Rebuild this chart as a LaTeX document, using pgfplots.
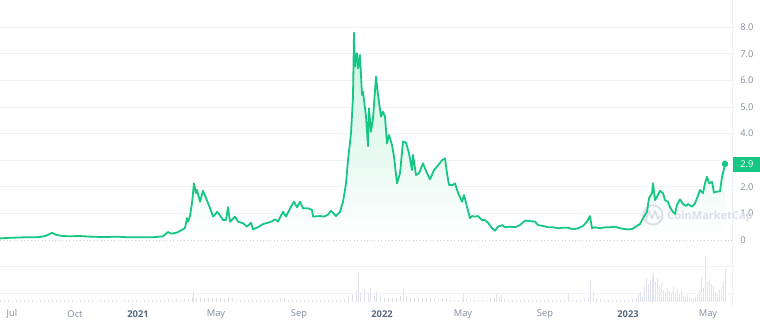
\documentclass[border=0pt]{standalone}
\usepackage{pgfplots}
\usepackage{pgfplotstable}
\pgfplotsset{compat=1.18}
\usepackage{fontspec}
\setmainfont{Open Sans}
\definecolor{cmcgreen}{RGB}{22,199,132}
\definecolor{ticklab}{RGB}{128,138,157}
\definecolor{yearlab}{RGB}{88,102,126}
\definecolor{gridc}{RGB}{239,242,245}
\definecolor{zeroc}{RGB}{196,202,214}
\definecolor{volc}{RGB}{222,226,236}
\definecolor{fillg}{RGB}{200,242,224}
\definecolor{wmark}{RGB}{220,223,230}

% x in pixel units of the time axis, y = price
\pgfplotstableread{
x y
0 0.06
8 0.08
16 0.09
24 0.1
32 0.1
40 0.11
46 0.16
52 0.27
56 0.2
62 0.15
70 0.14
80 0.15
88 0.13
96 0.12
104 0.11
112 0.12
120 0.12
128 0.1
136 0.1
144 0.1
152 0.1
158 0.12
163 0.14
168 0.3
171 0.24
173 0.25
177 0.28
182 0.38
185 0.45
187 0.82
188 0.69
190 0.9
192 1.39
194 2.13
196 1.76
197 1.88
200 1.44
203 1.85
206 1.58
210 1.2
213 0.88
215 0.95
217 1.06
219 0.98
223 0.75
226 0.75
228 1.24
230 0.69
233 0.8
235 0.88
238 0.69
243 0.63
247 0.5
251 0.65
253 0.4
258 0.48
263 0.6
268 0.65
272 0.7
275 0.78
278 0.69
283 1.06
286 0.88
291 1.25
294 1.44
297 1.23
300 1.44
303 1.19
308 1.19
312 1.13
313 0.88
320 0.9
324 0.88
328 0.95
331 1.1
336 0.9
340 1.06
343 1.44
345 1.88
346 2.13
348 3.0
351 4.01
353 5.39
354 7.79
355 6.52
357 7.02
358 6.45
360 6.95
362 5.45
363 5.58
366 4.64
368 3.53
369 4.95
371 4.07
373 4.57
376 6.14
378 5.45
381 4.64
383 4.82
385 4.64
387 3.63
389 3.95
392 3.57
394 3.13
397 2.13
400 2.51
403 3.7
406 3.66
409 3.26
412 2.63
413 3.2
416 2.44
419 2.51
423 2.88
427 2.51
430 2.28
434 2.63
437 2.76
440 2.9
442 3.0
445 3.07
447 2.51
449 2.07
453 2.07
455 2.13
458 1.78
462 1.44
464 1.69
467 1.25
470 0.82
472 0.9
475 0.88
478 0.9
482 0.75
485 0.75
488 0.65
492 0.44
495 0.35
498 0.5
502 0.56
505 0.48
510 0.5
515 0.48
520 0.56
525 0.73
530 0.71
535 0.69
538 0.56
543 0.53
548 0.48
553 0.48
558 0.44
563 0.46
568 0.46
573 0.4
578 0.44
583 0.53
587 0.69
590 0.9
592 0.44
595 0.48
600 0.44
605 0.48
610 0.48
615 0.5
620 0.44
627 0.4
632 0.41
637 0.53
640 0.6
643 0.82
647 1.06
649 1.57
652 1.76
653 2.13
655 1.5
657 1.63
660 1.85
663 1.76
665 1.5
668 1.44
670 1.23
673 1.06
675 0.98
677 1.32
680 1.53
683 1.35
686 1.28
688 1.35
692 1.25
695 1.38
697 1.57
700 1.88
703 1.76
705 2.13
707 2.38
709 2.13
712 2.19
714 1.78
717 1.82
720 1.82
722 2.38
723 2.51
725 2.86
}\pricetable

% volume bar heights, in pixels of the chart
\pgfplotstableread{
x v
0 2
4 1.5
8 2
12 1
16 2
20 1.5
24 2
28 2
32 1.5
36 1
40 2
44 1.5
48 2
52 2.5
56 2
60 1.5
64 2
68 1.5
72 2
76 1
80 2
84 1.5
88 2
92 1.5
96 1
100 2
104 1.5
108 2
112 1.5
116 2
120 1
124 2
128 1.5
132 2
136 1.5
140 1
144 2
148 1.5
152 2
156 1.5
160 2
164 2
168 2.5
172 2
176 2.5
180 2
184 3
188 3
192 5
193 11
196 4
200 5
204 3
208 4
212 3
216 4
220 3
224 3
228 5
232 4
236 2
240 2
244 1.5
248 2
252 3
256 2
260 2
264 1.5
268 2
272 2
276 2
280 3
284 4
288 2
292 3
296 2
300 2
304 2
308 1.5
312 2
316 2
320 1.5
324 2
328 2
332 2
336 1.5
340 2
344 3
348 6
352 9
356 12
358 29
360 10
364 12
368 8
370 14
374 7
376 11
380 6
384 5
388 4
392 5
396 4
400 6
403 14
406 6
410 5
414 4
418 5
422 3
426 4
430 3
434 3
438 2
442 3
446 3
450 2
454 2
458 2
462 3
463 8
466 3
470 2
474 2
478 1.5
482 2
486 2
490 3
494 4
496 9
499 5
501 7
504 3
508 2
512 2
516 2
520 2
524 3
528 2
532 2
536 2
540 1.5
544 2
548 3
552 2
556 2
560 1.5
564 1.5
568 9
572 2
576 1.5
580 2
584 3
588 5
590 21
593 10
596 4
600 3
604 2
608 2
612 2
616 1.5
620 1.5
624 1.5
628 2
632 3
636 4
638 8
640 10
642 6
644 15
646 24
648 18
650 22
652 26
653 29
655 20
657 24
659 16
661 19
663 12
665 10
667 14
669 11
671 9
673 15
675 10
677 13
679 8
681 11
683 6
685 5
687 7
689 4
691 4
693 3
695 5
697 8
699 12
701 25
703 14
705 45
707 20
709 22
711 18
713 16
715 10
717 8
719 12
721 15
723 20
725 33
}\voltable

\begin{document}
\begin{tikzpicture}
\pgfplotsset{base/.style={scale only axis, width=549pt, height=226.5pt, xmin=0, xmax=732, at={(0,0)}, anchor=south west}}
\begin{axis}[base, name=vol, ymin=0, ymax=302, hide axis]
\addplot[ycomb, draw=volc, line width=0.55pt, mark=none] table[x=x,y=v]{\voltable};
\end{axis}
\begin{axis}[base, name=price, ymin=-2.33, ymax=9.02,
  clip=false,
  axis line style={draw=none},
  major tick length=0pt,
  ytick={-2,-1,1,2,3,4,5,6,7,8},
  yticklabels={,,1.0,2.0,,4.0,5.0,6.0,7.0,8.0},
  extra y ticks={0}, extra y tick labels={0},
  extra y tick style={major grid style={draw=zeroc, dotted, line width=0.7pt}},
  ymajorgrids, major grid style={draw=gridc, line width=0.6pt},
  yticklabel pos=right,
  yticklabel style={anchor=west, inner sep=0pt, xshift=6pt, font=\fontsize{7}{8}\selectfont, text=ticklab},
  xtick={12,75,138,216,299,382,463,545,628,708},
  xticklabels={Jul,Oct,\textcolor{yearlab}{\bfseries 2021},May,Sep,\textcolor{yearlab}{\bfseries 2022},May,Sep,\textcolor{yearlab}{\bfseries 2023},May},
  xticklabel style={anchor=center, inner sep=0pt, yshift=-9pt, font=\fontsize{7}{8}\selectfont, text=ticklab},
]
\draw[gridc, line width=0.7pt] (axis cs:732,-2.5) -- (axis cs:732,9.02);
\addplot[draw=none, top color=fillg, bottom color=white, forget plot] table[x=x,y=y]{\pricetable} \closedcycle;
% watermark
\draw[wmark, line width=1.4pt] (axis cs:653,0.94) circle[radius=7.2pt];
\draw[wmark, line width=1.2pt, line join=round] (axis cs:646,0.75) -- (axis cs:649,1.1) -- (axis cs:652,0.8) -- (axis cs:655,1.1) -- (axis cs:658,0.8) -- (axis cs:660,0.9);
\node[text=wmark, font=\bfseries\fontsize{8.3}{10}\selectfont, anchor=west, inner sep=0pt] at (axis cs:667,0.88) {CoinMarketCap};
\addplot[cmcgreen, line width=1.35pt, line join=round, mark=none] table[x=x,y=y]{\pricetable};
\addplot[only marks, mark=*, mark size=2.2pt, cmcgreen] coordinates {(725,2.86)};
% last price box
\node[fill=cmcgreen, text=white, anchor=west, minimum width=20.4pt, minimum height=11pt, inner sep=0pt, font=\fontsize{7}{8}\selectfont] at (axis cs:733,2.84) {2.9};
\end{axis}
\pgfresetboundingbox
\path[use as bounding box] ([yshift=-16.5pt]price.south west) rectangle ([xshift=570pt]price.north west);
\end{tikzpicture}
\end{document}
